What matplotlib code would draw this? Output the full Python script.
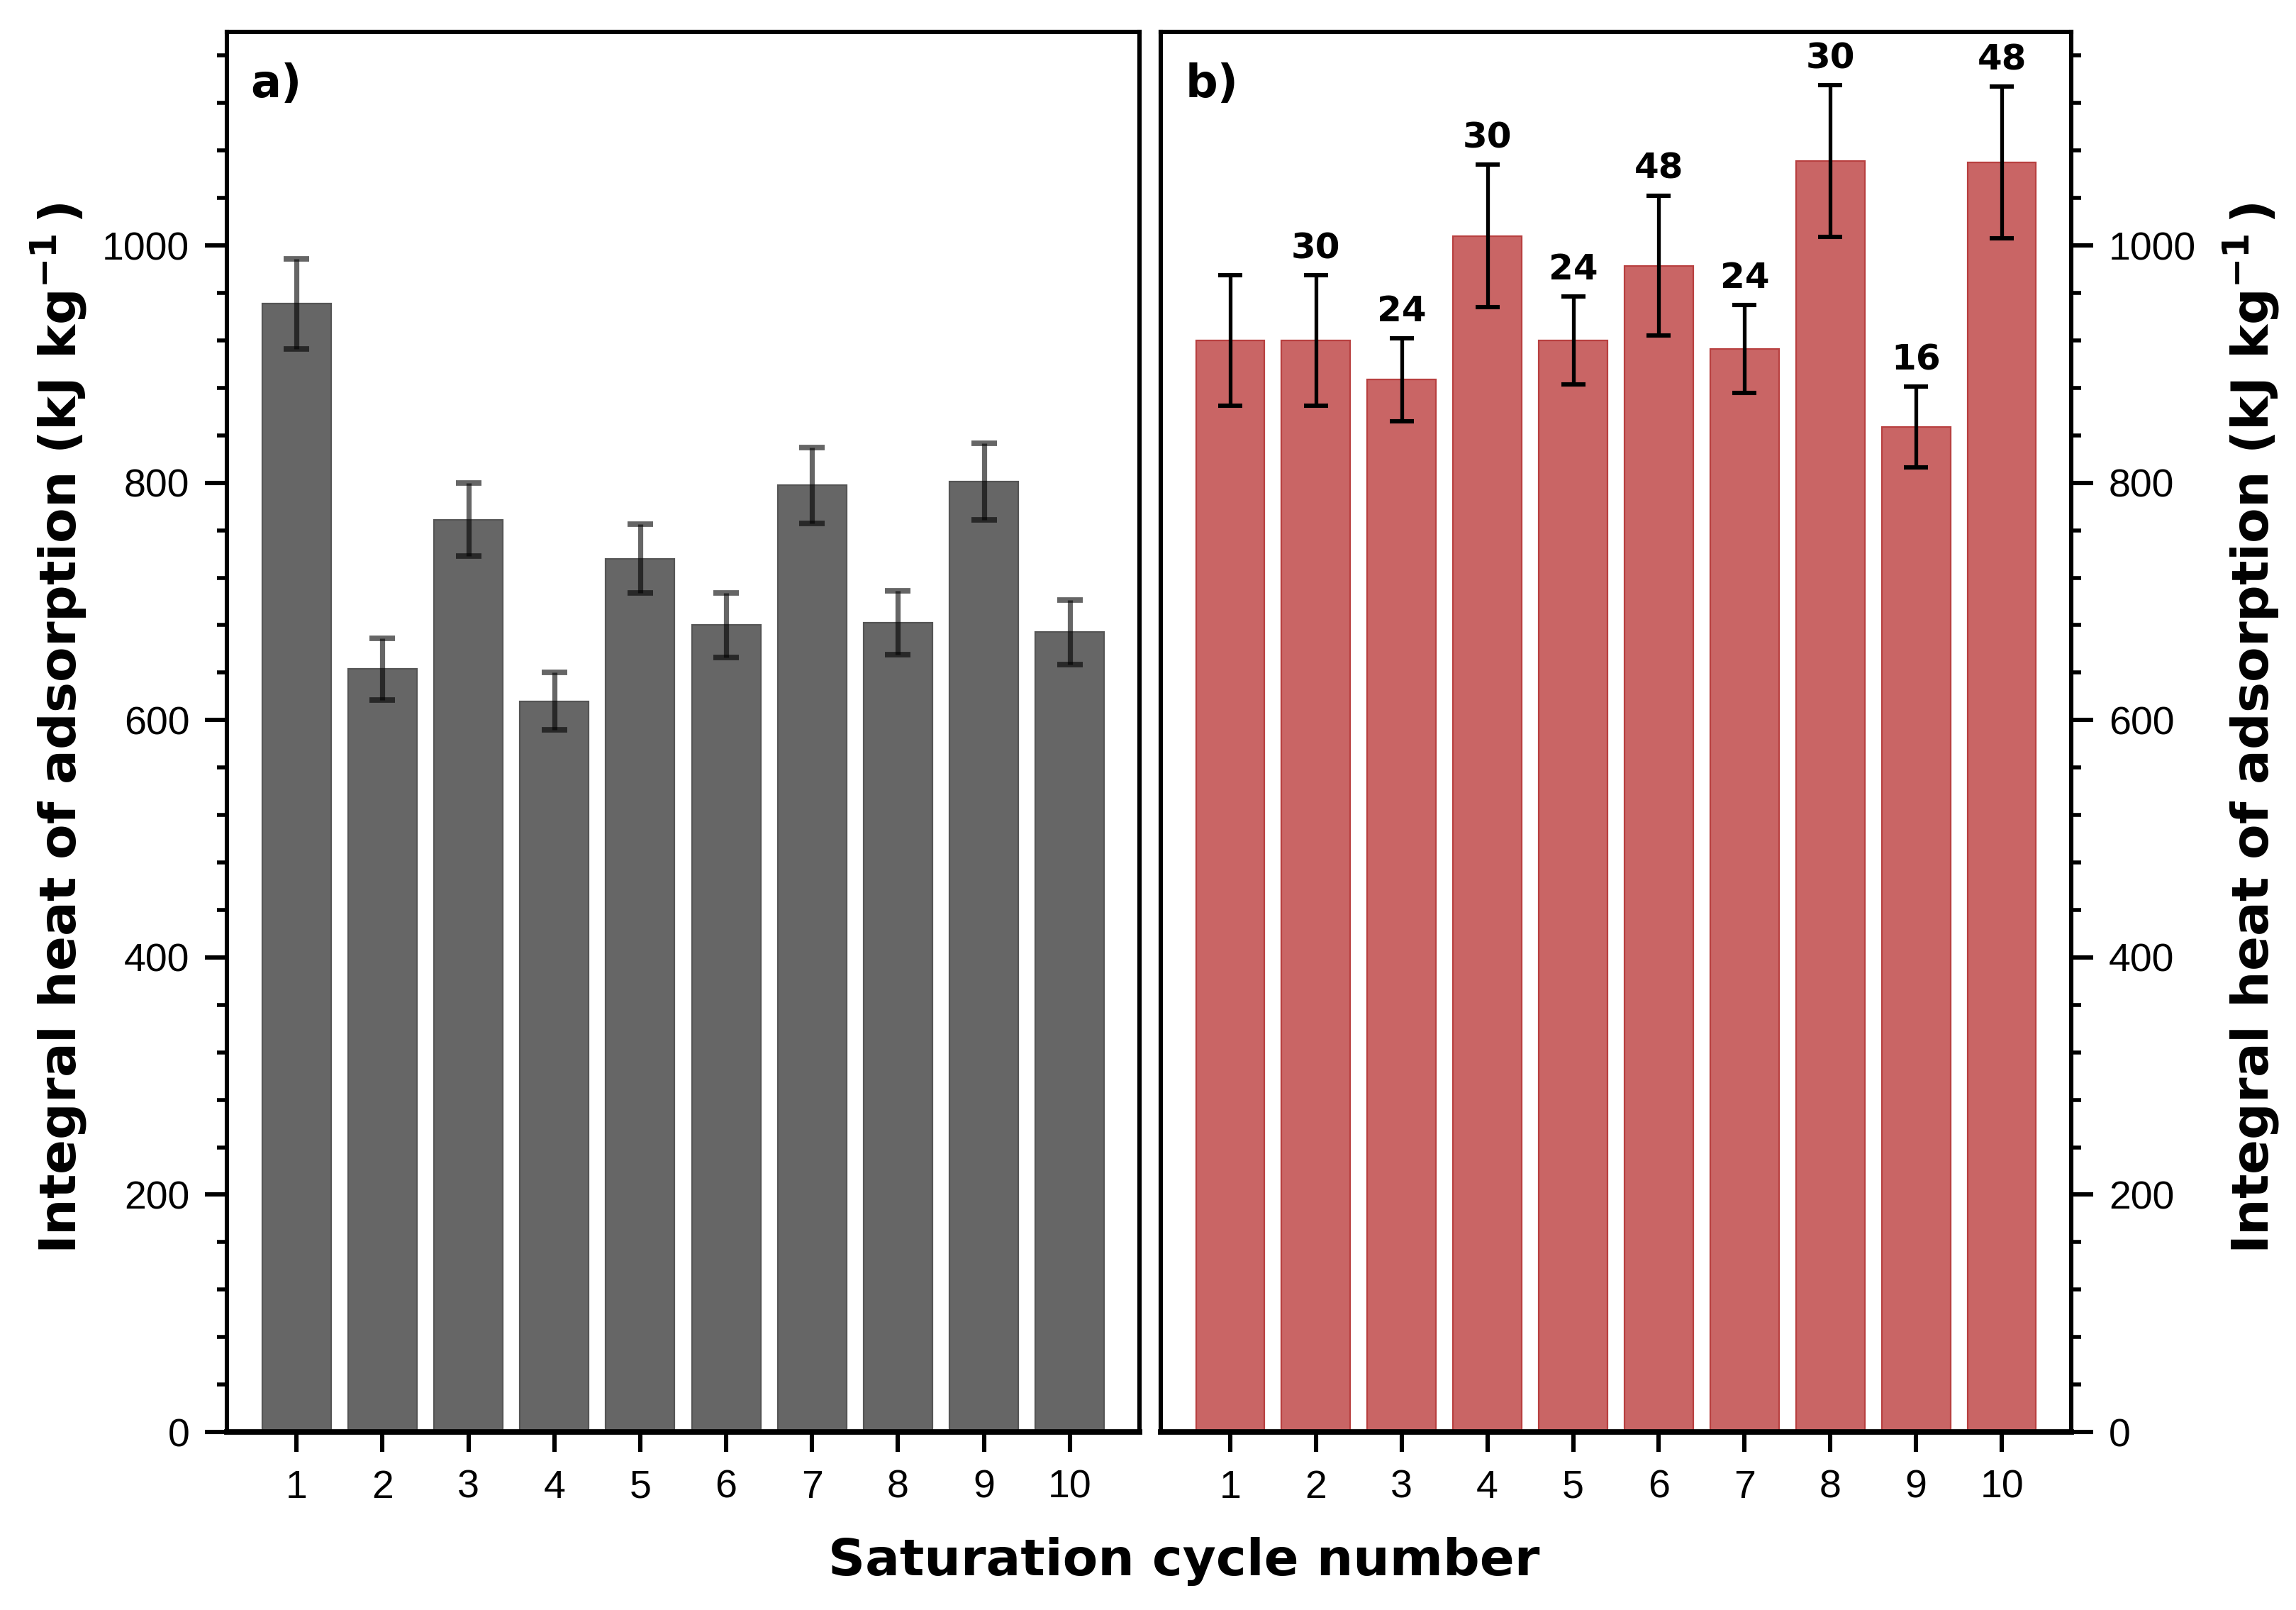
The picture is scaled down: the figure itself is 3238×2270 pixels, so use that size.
import matplotlib
matplotlib.use('Agg')
import matplotlib.pyplot as plt
from matplotlib.ticker import MultipleLocator, AutoMinorLocator

# Data
cycles = [1, 2, 3, 4, 5, 6, 7, 8, 9, 10]

heat_a = [951, 643, 769, 616, 736, 680, 798, 682, 801, 674]
err_a = [38, 26, 31, 24, 29, 27, 32, 27, 32, 27]

heat_b = [920, 920, 887, 1008, 920, 983, 913, 1071, 847, 1070]
err_b = [55, 55, 35, 60, 37, 59, 37, 64, 34, 64]
labels_b = ['', '30', '24', '30', '24', '48', '24', '30', '16', '48']

plt.rcParams['font.family'] = ['Liberation Sans', 'DejaVu Sans']
plt.rcParams['mathtext.fontset'] = 'dejavusans'

W, H = 3238, 2270
DPI = 200
fig = plt.figure(figsize=(W / DPI, H / DPI), dpi=DPI)

bottom = 1 - 2019 / H
height = (2019 - 45) / H
ax_a = fig.add_axes([320 / W, bottom, (1607 - 320) / W, height])
ax_b = fig.add_axes([1637 / W, bottom, (2921 - 1637) / W, height])

bold = dict(family='DejaVu Sans', fontweight='bold')


def style_axis(ax, side):
    ax.set_xlim(0.19, 10.81)
    ax.set_ylim(0, 1180)
    ax.set_xticks(cycles)
    ax.set_xticklabels([str(c) for c in cycles])
    ax.yaxis.set_major_locator(MultipleLocator(200))
    ax.yaxis.set_minor_locator(AutoMinorLocator(5))
    for s in ax.spines.values():
        s.set_linewidth(2.2)
    ax.spines['bottom'].set_linewidth(2.8)
    ax.tick_params(axis='x', which='major', direction='out', length=10,
                   width=2.2, pad=9, labelsize=20, top=False)
    ax.tick_params(axis='x', which='minor', bottom=False, top=False)
    ax.tick_params(axis='y', which='major', direction='out', length=11,
                   width=2.2, pad=8, labelsize=20)
    ax.tick_params(axis='y', which='minor', direction='out', length=5,
                   width=2.0)
    if side == 'left':
        ax.tick_params(axis='y', which='both', left=True, right=False,
                       labelleft=True, labelright=False)
    else:
        ax.yaxis.tick_right()
        ax.tick_params(axis='y', which='both', left=False, right=True,
                       labelleft=False, labelright=True)


# ---- panel a ----
ax_a.bar(cycles, heat_a, width=0.8, color='#666666', edgecolor='#555555',
         linewidth=0.8, zorder=2)
ax_a.errorbar(cycles, heat_a, yerr=err_a, fmt='none', ecolor=(0, 0, 0, 0.6),
              elinewidth=2.6, capsize=6.5, capthick=2.8, zorder=3)
style_axis(ax_a, 'left')
ax_a.text(33 / 1287, 0.978, 'a)', transform=ax_a.transAxes, ha='left',
          va='top', fontsize=23, **bold)

# ---- panel b ----
ax_b.bar(cycles, heat_b, width=0.8, color='#c96565', edgecolor='#b84040',
         linewidth=0.8, zorder=2)
ax_b.errorbar(cycles, heat_b, yerr=err_b, fmt='none', ecolor='black',
              elinewidth=1.9, capsize=6, capthick=2.2, zorder=3)
for x, v, e, lab in zip(cycles, heat_b, err_b, labels_b):
    if lab:
        ax_b.annotate(lab, (x, v + e), xytext=(0, 5), textcoords='offset points',
                      ha='center', va='bottom', fontsize=18, **bold)
style_axis(ax_b, 'right')
ax_b.text(35 / 1284, 0.978, 'b)', transform=ax_b.transAxes, ha='left',
          va='top', fontsize=23, **bold)

# ---- shared labels ----
ylab = r'Integral heat of adsorption (kJ kg$^{\mathbf{-1}}\,$)'
fig.text(83 / W, 1 - 1027 / H, ylab, rotation=90, ha='center', va='center',
         fontsize=26, **bold)
fig.text(3175 / W, 1 - 1027 / H, ylab, rotation=90, ha='center', va='center',
         fontsize=26, **bold)
fig.text(1670 / W, 1 - 2202 / H, 'Saturation cycle number', ha='center',
         va='center', fontsize=26, **bold)

fig.savefig('out.png', dpi=DPI)
